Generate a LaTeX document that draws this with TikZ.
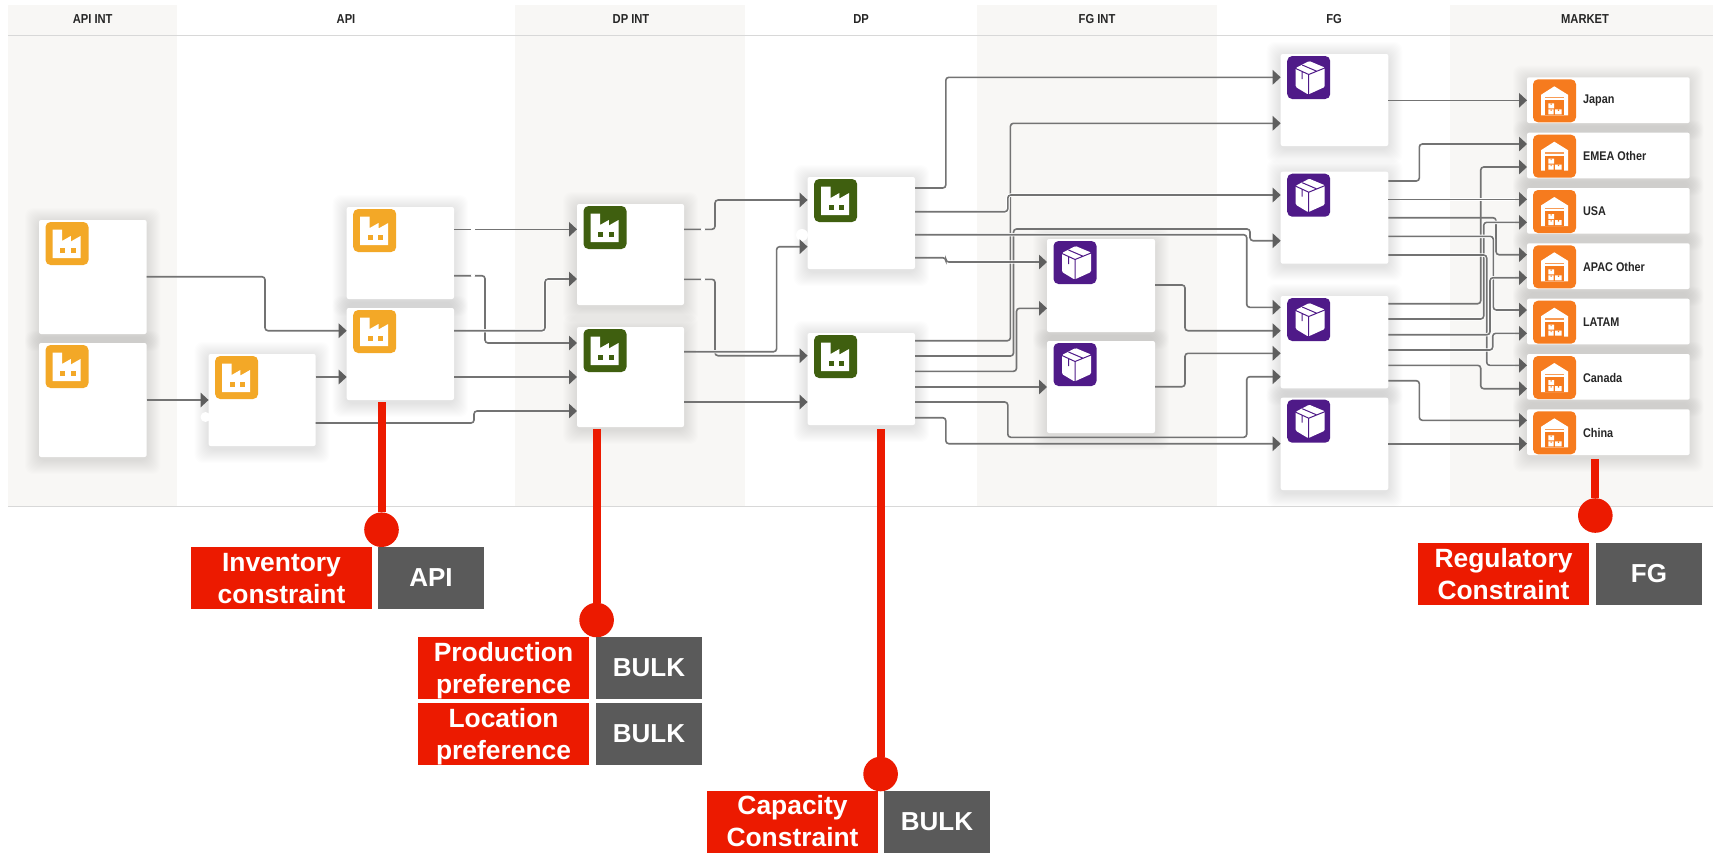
\documentclass[tikz,border=0pt]{standalone}
\usepackage{fontspec}
\setmainfont{Liberation Sans}
\newfontfamily\hdfont[FakeStretch=.86]{Liberation Sans Bold}
\usetikzlibrary{arrows.meta,calc}
\definecolor{bandc}{HTML}{F8F7F5}
\definecolor{rulec}{HTML}{D8D8D8}
\definecolor{linec}{HTML}{737373}
\definecolor{tipc}{HTML}{5E5E5E}
\definecolor{redc}{HTML}{EC1A00}
\definecolor{greyc}{HTML}{5A5A5A}
\definecolor{apic}{HTML}{F3A827}
\definecolor{dpc}{HTML}{3F5F0F}
\definecolor{fgc}{HTML}{4F1A88}
\definecolor{mktc}{HTML}{F67B1E}
\tikzset{
  card/.style={fill=white,inner sep=0pt,outer sep=0pt,rounded corners=1pt},
  conn/.style={draw=linec,line width=.8pt,rounded corners=1.5pt,-{Triangle[length=4pt,width=7.2pt,color=tipc]}},
  halo/.style={preaction={draw=white,line width=1.7pt,-,shorten <=6pt,shorten >=6pt}},
  hdr/.style={font=\hdfont\fontsize{6.5}{8}\selectfont,text=black!85,inner sep=0pt},
  mlabel/.style={font=\hdfont\fontsize{6.3}{8}\selectfont,text=black!85,inner sep=0pt,anchor=west},
  redbox/.style={fill=redc,inner sep=0pt,outer sep=0pt},
  redtext/.style={text=white,font=\bfseries\fontsize{13.2}{16}\selectfont,align=center,inner sep=0pt},
  greybox/.style={fill=greyc,text=white,font=\bfseries\fontsize{13}{16}\selectfont,align=center,inner sep=0pt,outer sep=0pt},
  redbar/.style={draw=redc,line width=4pt},
  reddot/.style={circle,fill=redc,minimum size=17.3pt,inner sep=0pt,outer sep=0pt},
}
% icons: local coordinates in reference pixels, 43 x 43
\newcommand\icfac[3]{\begin{scope}[shift={(#1,#2)}]
  \fill[#3,rounded corners=2.5pt] (0,0) rectangle (43,43);
  \fill[white] (7,7.5) -- (16.5,7.5) -- (16.5,19) -- (25.3,14) -- (25.3,19.5) -- (35,14) -- (35,36) -- (7,36) -- cycle;
  \fill[#3] (14.5,26.3) rectangle (19.5,31);
  \fill[#3] (25,26.3) rectangle (30,31);
\end{scope}}
\newcommand\icbox[3]{\begin{scope}[shift={(#1,#2)}]
  \fill[#3,rounded corners=2.5pt] (0,0) rectangle (43,43);
  \fill[white,rounded corners=.6pt] (8.5,12) -- (22,5) -- (37.5,11.5) -- (37.5,31) -- (21,38.5) -- (8.5,31) -- cycle;
  \draw[#3,line width=.5pt] (8.5,12.5) -- (21.5,18.5) -- (37.5,12) (21.5,18.5) -- (21.5,38.5) (15,9) -- (29,15) (15,15.5) -- (15,23);
\end{scope}}
\newcommand\icware[3]{\begin{scope}[shift={(#1,#2)}]
  \fill[#3,rounded corners=2.5pt] (0,0) rectangle (43,43);
  \fill[white] (21.3,7) -- (35,15.5) -- (35,36) -- (8,36) -- (8,15.5) -- cycle;
  \fill[#3!75] (12,17.5) rectangle (31,19);
  \fill[#3] (12,21) rectangle (31,36);
  \fill[white] (15.3,24) rectangle (21,29) (15.3,30) rectangle (20.5,35) (22,30) rectangle (28.7,35);
  \fill[#3] (17.5,24) rectangle (18.7,25.5) (17.5,30) rectangle (18.7,31.5) (24.8,30) rectangle (26,31.5);
\end{scope}}
\newcommand\shadowof[4]{\foreach \e in {1,...,14}{%
  \fill[black,opacity=.009,rounded corners=4pt] (#1-\e,#2-\e+2) rectangle (#3+\e,#4+\e+3);}}
% connectors: straight, Z-shaped, and double Z
\newcommand\cs[4][]{\draw[conn,#1] (#2.east |- 0,#3) -- (#4.west |- 0,#3);}
\newcommand\cz[6][]{\draw[conn,#1] (#2.east |- 0,#3) -- (#4,#3) -- (#4,#6) -- (#5.west |- 0,#6);}
\newcommand\czz[8][]{\draw[conn,#1] (#2.east |- 0,#3) -- (#4,#3) -- (#4,#5) -- (#6,#5) -- (#6,#8) -- (#7.west |- 0,#8);}
\begin{document}
\begin{tikzpicture}[x=.5pt,y=-.5pt]
\useasboundingbox (0,0) rectangle (1716,858);
\fill[white] (0,0) rectangle (1716,858);
% bands
\foreach \a/\b in {8/177,515/745,977/1217,1450/1713}{\fill[bandc] (\a,5) rectangle (\b,506);}
\draw[rulec,line width=.5pt] (8,35.3) -- (1713,35.3);
\draw[rulec,line width=.6pt] (8,506.5) -- (1713,506.5);
% headers
\foreach \n/\x/\t in {ha/92.7/API INT,hb/346/API,hc/631/DP INT,hd/861/DP,he/1097/FG INT,hf/1334/FG,hg/1585/MARKET}{\node[hdr] (\n) at (\x,19.5) {\t};}
% cards
\def\cardlist{apia/39/220/146.6/334/fac/apic,apib/39/343/146.6/457/fac/apic,apic/208.6/354/315.7/446/fac/apic,
apid/346.7/207/454/299/fac/apic,apie/346.7/308/454/400/fac/apic,
dia/577/204/684/305/fac/dpc,dib/577/327/684/427/fac/dpc,
dpa/807.6/177/915/269/fac/dpc,dpb/807.6/333/915/425/fac/dpc,
fia/1047/239/1155/332/box/fgc,fib/1047/341/1155/433/box/fgc,
fga/1280.7/54/1388.3/146/box/fgc,fgb/1280.7/171.7/1388.3/263.7/box/fgc,fgc/1280.7/296/1388.3/388.3/box/fgc,fgd/1280.7/397.7/1388.3/490/box/fgc}
\def\mktlist{ma/77.3/Japan,mb/132.7/EMEA Other,mc/188/USA,md/243.3/APAC Other,me/298.7/LATAM,mf/354/Canada,mg/409.3/China}
\foreach \n/\a/\b/\c/\d/\k/\col in \cardlist {\shadowof{\a}{\b}{\c}{\d}}
\foreach \n/\y/\t in \mktlist {\pgfmathsetmacro\yy{\y+45.7}\shadowof{1527}{\y}{1689.7}{\yy}}
\foreach \n/\a/\b/\c/\d/\k/\col in \cardlist {
  \pgfmathsetmacro\ww{(\c-\a)*.5}\pgfmathsetmacro\hh{(\d-\b)*.5}
  \node[card,minimum width=\ww pt,minimum height=\hh pt] (\n) at ({(\a+\c)/2},{(\b+\d)/2}) {};
  \csname ic\k\endcsname{\a+6.5}{\b+2}{\col}
}
\foreach \n/\y/\t in \mktlist {
  \node[card,minimum width=81.35pt,minimum height=22.85pt] (\n) at (1608.35,\y+22.85) {};
  \icware{1533}{\y+2}{mktc}
  \node[mlabel] (l\n) at (1582.7,\y+23.6) {\t};
}
% white blobs on card edges and connectors
\fill[white] (205.5,417) circle (5);
\fill[white] (802,235) circle (6);
% API connectors
\cz{apia}{276.7}{265}{apie}{330.7}
\cs{apib}{400}{apic}
\cs{apic}{377}{apie}
\cz{apic}{423}{474}{dib}{411}
\cs{apid}{229.3}{dia}
\cz{apid}{275.7}{485}{dib}{343}
\cz[halo]{apie}{330.7}{545}{dia}{279}
\cs{apie}{377}{dib}
% DP INT connectors
\cz{dia}{229.3}{715}{dpa}{200}
\cz{dia}{279.3}{715}{dpb}{355.7}
\cz[halo]{dib}{351.7}{776.6}{dpa}{246.7}
\cs{dib}{402}{dpb}
\foreach \px/\py in {473/229.3,473/275.7,703/229.3,703/279.3}{\fill[white] (\px,\py) circle (2);}
% DP connectors
\cz{dpa}{188}{945.8}{fga}{77.3}
\cz{dpb}{340.7}{1010.4}{fga}{123.3}
\czz{dpb}{356}{1013.5}{229}{1250}{fgb}{240.7}
\cz{dpb}{371.3}{1016.5}{fia}{308.3}
\draw[conn,halo] (dpa.east |- 0,257.7) -- (945.8,257.7) -- (945.8,262) -- (fia.west |- 0,262);
\cs{dpb}{387}{fib}
\cz[halo]{dpa}{234.7}{1246.7}{fgc}{307.3}
\cz[halo]{dpa}{211.7}{1007.8}{fgb}{195}
\czz{dpb}{402}{1007.8}{437.3}{1246.7}{fgc}{376.7}
\cz{dpb}{417.7}{945.8}{fgd}{443.7}
% FG INT connectors
\cz{fia}{285}{1185}{fgc}{330.7}
\cz{fib}{386.7}{1185}{fgc}{353.3}
% FG connectors
\cs{fga}{100.3}{ma}
\cz{fgc}{380.7}{1419.3}{mg}{420.3}
\cs{fgd}{443.7}{mg}
\cz{fgb}{181}{1419.3}{mb}{144}
\cz{fgb}{217.7}{1496}{md}{254.7}
\cz{fgc}{303.7}{1480.7}{mb}{167}
\cz{fgc}{365.3}{1480.7}{mf}{388.7}
\cz[halo]{fgc}{319}{1483.7}{mc}{222.3}
\cz[halo]{fgb}{255}{1486.7}{mf}{365.3}
\cz[halo]{fgb}{236.3}{1493.3}{me}{310}
\cz[halo]{fgc}{334.7}{1490}{md}{277.7}
\cz[halo]{fgc}{350}{1492.7}{me}{333.3}
\draw[conn,halo] (fgb.east |- 0,199.3) -- (mc.west |- 0,199.3);
% red callouts
\node[reddot] (da) at (381.5,529.7) {};
\node[reddot] (db) at (596.6,620) {};
\node[reddot] (dc) at (880.6,774) {};
\node[reddot] (dd) at (1595.3,515.5) {};
\coordinate (ba) at (381.5,402);
\coordinate (bb) at (596.6,429);
\coordinate (bc) at (880.6,429);
\coordinate (bd) at (1595.3,459);
\draw[redbar] (ba) -- (da);
\draw[redbar] (bb) -- (db);
\draw[redbar] (bc) -- (dc);
\draw[redbar] (bd) -- (dd);
\node[redbox,minimum width=90.5pt,minimum height=30.9pt] (ra) at (281.5,577.8) {};
\node[redtext] (ta) at (281.5,579) {Inventory\\constraint};
\node[greybox,minimum width=53pt,minimum height=30.9pt] (ga) at (431,577.8) {API};
\node[redbox,minimum width=85.5pt,minimum height=31pt] (rb) at (503.5,668) {};
\node[redtext] (tb) at (503.5,671) {Production\\preference};
\node[greybox,minimum width=53pt,minimum height=31pt] (gb) at (649,668) {BULK};
\node[redbox,minimum width=85.5pt,minimum height=31pt] (rc) at (503.5,734) {};
\node[redtext] (tc) at (503.5,737) {Location\\preference};
\node[greybox,minimum width=53pt,minimum height=31pt] (gc) at (649,734) {BULK};
\node[redbox,minimum width=85.5pt,minimum height=31pt] (rd) at (792.5,822) {};
\node[redtext] (td) at (792.5,821) {Capacity\\Constraint};
\node[greybox,minimum width=53pt,minimum height=31pt] (gd) at (937,822) {BULK};
\node[redbox,minimum width=85.5pt,minimum height=31pt] (re) at (1503.5,574) {};
\node[redtext] (te) at (1503.5,574) {Regulatory\\Constraint};
\node[greybox,minimum width=53pt,minimum height=31pt] (ge) at (1649,574) {FG};
\end{tikzpicture}
\end{document}
